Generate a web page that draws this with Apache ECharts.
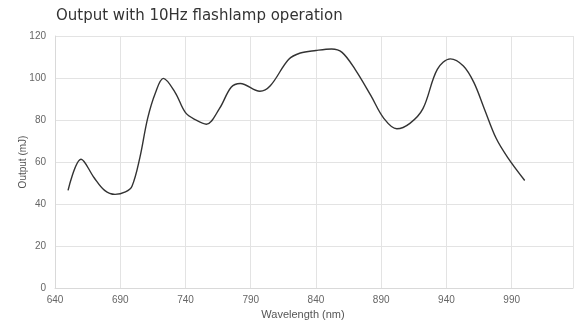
<!DOCTYPE html>
<html>
<head>
<meta charset="utf-8">
<script src="https://cdn.jsdelivr.net/npm/echarts@6/dist/echarts.min.js"></script>
<style>html,body{margin:0;padding:0;background:#fff}#c{width:583px;height:325px}</style>
</head>
<body>
<div id="c"></div>
<script>
const wavelengths = [650,660,670,678,686,694,699,705,711,717,723,732,740,748,756,766,775,782,797,805,819,828,840,852,860,870,882,892,902,912,922,933,943,953,961,969,978,987,1000];
const outputs = [46.5,61.3,52.5,46.5,44.6,45.8,48.5,62,80.8,93,99.8,93.2,83.5,80,78,85.4,95.6,97.4,93.7,96.3,108.8,111.9,113.1,113.8,112.2,104.1,91.7,80.8,75.8,78.4,85.4,104.1,109.1,105.7,97.9,85.4,71.4,62.1,51.2];
const titleText = 'Output with 10Hz flashlamp operation';
const xName = 'Wavelength (nm)';
const yName = 'Output (mJ)';

const chart = echarts.init(document.getElementById('c'), null, {renderer:'canvas'});
chart.setOption({
  animation:false,
  backgroundColor:'#fff',
  title:{text:titleText,left:51,top:4,textStyle:{fontFamily:'DejaVu Sans',fontSize:15,fontWeight:'normal',color:'#333'}},
  grid:{left:55,right:10,top:36,bottom:32,containLabel:false},
  xAxis:{type:'value',min:640,max:1037,interval:50,
    name:xName,nameLocation:'middle',nameGap:21,nameMoveOverlap:false,
    nameTextStyle:{fontFamily:'Liberation Sans',fontSize:11,color:'#555',padding:[0,22,0,0]},
    axisLine:{show:true,lineStyle:{color:'#d9d9d9'}},axisTick:{show:false},
    axisLabel:{showMaxLabel:false,margin:7,fontFamily:'Liberation Sans',fontSize:10,color:'#666'},
    splitLine:{show:true,lineStyle:{color:'#e3e3e3'}}},
  yAxis:{type:'value',min:0,max:120,interval:20,
    name:yName,nameLocation:'middle',nameGap:27,nameMoveOverlap:false,
    nameTextStyle:{fontFamily:'Liberation Sans',fontSize:10,color:'#555'},
    axisLine:{show:true,lineStyle:{color:'#d9d9d9'}},axisTick:{show:false},
    axisLabel:{margin:9,fontFamily:'Liberation Sans',fontSize:10,color:'#666'},
    splitLine:{show:true,lineStyle:{color:'#e3e3e3'}}},
  series:[{type:'line',data:wavelengths.map((w,i)=>[w,outputs[i]]),smooth:0.35,showSymbol:false,
    lineStyle:{color:'#333',width:1.4}}]
});
</script>
</body>
</html>
